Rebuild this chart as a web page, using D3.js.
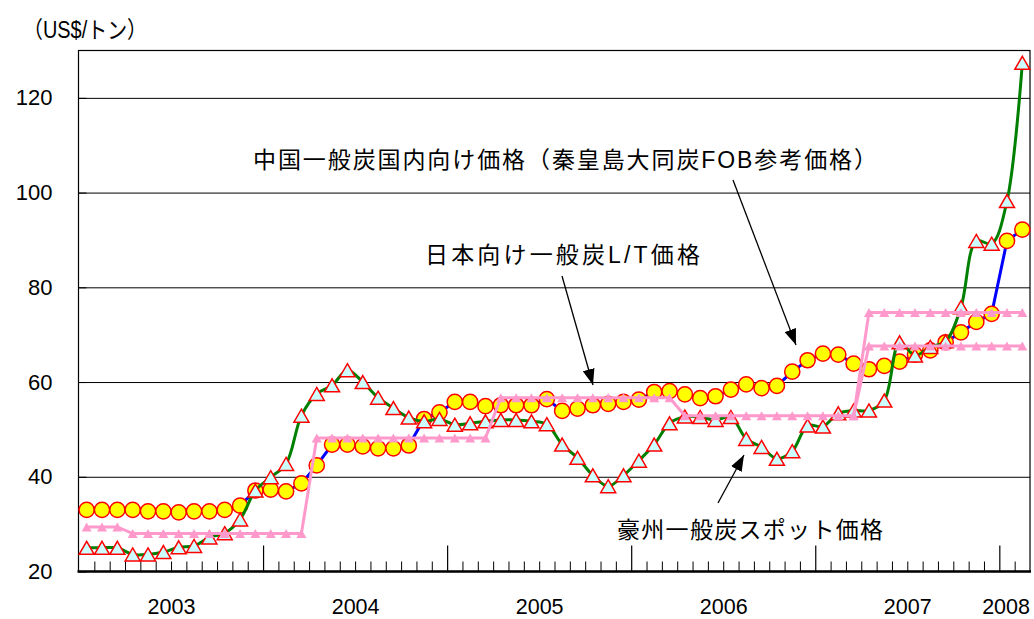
<!DOCTYPE html>
<html>
<head>
<meta charset="utf-8">
<script src="https://cdn.jsdelivr.net/npm/d3@7"></script>
<style>
  body { margin: 0; background: #fff; }
  svg { display: block; }
</style>
</head>
<body>
<svg id="chart" width="1034" height="619"></svg>
<script>
// Monthly coal prices, January 2003 – February 2008 (US$/ton)
const firstYear = 2003;
const monthCount = 62;
const yearLabels = ["2003", "2004", "2005", "2006", "2007", "2008"];
const yTicks = [20, 40, 60, 80, 100, 120];

// Australian thermal coal spot price
const australiaSpot = [
  25.0, 25.0, 25.0, 23.6, 23.6, 24.1, 25.1, 25.4, 27.2, 28.1, 31.0, 37.1,
  39.9, 42.7, 52.9, 57.5, 59.3, 62.5, 60.0, 56.7, 54.5, 52.5, 51.7, 52.2,
  51.0, 51.3, 51.7, 52.0, 52.0, 51.7, 51.1, 46.8, 44.0, 40.3, 38.0, 40.3,
  43.4, 46.8, 51.3, 52.7, 52.6, 52.0, 52.6, 48.0, 46.3, 43.8, 45.4, 50.8,
  50.6, 53.4, 54.0, 54.0, 56.1, 68.4, 65.6, 67.4, 68.6, 75.8, 89.8, 89.2,
  98.2, 127.4
];

// China domestic thermal coal price (Qinhuangdao Datong coal FOB reference)
const chinaFOB = [
  33.0, 33.0, 33.0, 33.0, 32.7, 32.7, 32.5, 32.7, 32.7, 33.0, 33.9, 37.1,
  37.3, 36.9, 38.6, 42.4, 46.8, 46.8, 46.4, 46.0, 46.0, 46.6, 52.2, 53.6,
  55.8, 55.8, 54.9, 55.1, 55.1, 55.1, 56.4, 53.9, 54.4, 55.1, 55.4, 55.8,
  56.3, 57.9, 58.1, 57.4, 56.6, 57.0, 58.4, 59.5, 58.7, 59.2, 62.2, 64.6,
  66.0, 65.8, 63.9, 62.7, 63.4, 64.3, 65.8, 66.7, 68.4, 70.5, 72.7, 74.4,
  89.8, 92.2
];

// Japan-bound thermal coal long-term contract price (fiscal-year benchmark)
const japanLT = [
  29.4, 29.4, 29.4, 28.0, 28.0, 28.0, 28.0, 28.0, 28.0, 28.0, 28.0, 28.0,
  28.0, 28.0, 28.0, 48.2, 48.2, 48.2, 48.2, 48.2, 48.2, 48.2, 48.2, 48.2,
  48.2, 48.2, 48.2, 56.7, 56.7, 56.7, 56.7, 56.7, 56.7, 56.7, 56.7, 56.7,
  56.7, 56.7, 56.7, 52.9, 52.9, 52.9, 52.9, 52.9, 52.9, 52.9, 52.9, 52.9,
  52.9, 52.9, 52.9, 74.7, 74.7, 74.7, 74.7, 74.7, 74.7, 74.7, 74.7, 74.7,
  74.7, 74.7
];

// Second FY2007 Japan contract price level
const japanLT2 = [
  null, null, null, null, null, null, null, null, null, null, null, null,
  null, null, null, null, null, null, null, null, null, null, null, null,
  null, null, null, null, null, null, null, null, null, null, null, null,
  null, null, null, null, null, null, null, null, null, null, null, null,
  null, null, 52.9, 67.6, 67.6, 67.6, 67.6, 67.6, 67.6, 67.6, 67.6, 67.6,
  67.6, 67.6
];

const unitLabel = "（US$/トン）";
const chinaLabel = "中国一般炭国内向け価格（秦皇島大同炭FOB参考価格）";
const japanLabel = "日本向け一般炭L/T価格";
const australiaLabel = "豪州一般炭スポット価格";

// ---- layout ----
const plot = { left: 78.5, right: 1030, top: 50.5, bottom: 571.5 };
const latin = "'Liberation Sans', Arial, sans-serif";
// Latin letters in Liberation Sans, Japanese falling back to Noto Sans CJK
const mixed = "'Liberation Sans', 'Noto Sans CJK JP', 'Noto Sans CJK SC', sans-serif";

const svg = d3.select("#chart");

const x = d3.scaleLinear().domain([0, monthCount]).range([79, plot.right]);
const y = d3.scaleLinear().domain([20, 130]).range([plot.bottom, plot.top]);
const mid = i => x(i + 0.5);

// horizontal gridlines
const grid = svg.append("g")
  .attr("transform", `translate(${plot.left},0)`)
  .call(d3.axisLeft(y).tickValues(yTicks.filter(v => v > 20))
    .tickSize(-(plot.right - plot.left)).tickFormat(""));
grid.select(".domain").remove();
grid.selectAll(".tick line").attr("stroke", "#000").attr("stroke-width", 1);

// y axis with inward ticks
const yAxis = svg.append("g")
  .attr("transform", `translate(${plot.left},0)`)
  .call(d3.axisLeft(y).tickValues(yTicks).tickSizeInner(-8).tickSizeOuter(0).tickPadding(26));
yAxis.select(".domain").remove();
yAxis.selectAll(".tick line").attr("stroke", "#000");
yAxis.selectAll("text").attr("font-family", latin).attr("font-size", 22).attr("fill", "#000");

// month ticks along the bottom, taller at year boundaries
const monthTicks = d3.range(1, monthCount).filter(i => i % 12 !== 0);
const yearTicks = d3.range(12, monthCount, 12);
const xMinor = svg.append("g")
  .attr("transform", `translate(0,${plot.bottom})`)
  .call(d3.axisBottom(x).tickValues(monthTicks).tickSize(-10).tickFormat(""));
xMinor.select(".domain").remove();
xMinor.selectAll(".tick line").attr("stroke", "#000").attr("stroke-width", 1);
const xMajor = svg.append("g")
  .attr("transform", `translate(0,${plot.bottom})`)
  .call(d3.axisBottom(x).tickValues(yearTicks).tickSize(-26).tickFormat(""));
xMajor.select(".domain").remove();
xMajor.selectAll(".tick line").attr("stroke", "#000").attr("stroke-width", 1.2);

// year labels centred on the months of each year
const yearCenters = yearLabels.map((lab, k) => {
  const a = k * 12, b = Math.min(a + 12, monthCount);
  return (a + b) / 2;
});
const xLabels = svg.append("g")
  .attr("transform", `translate(0,${plot.bottom})`)
  .call(d3.axisBottom(x).tickValues(yearCenters).tickSize(0).tickPadding(27)
    .tickFormat((d, i) => yearLabels[i]));
xLabels.select(".domain").remove();
xLabels.selectAll("text").attr("font-family", latin).attr("font-size", 21.5).attr("fill", "#000");
xLabels.selectAll("text").each(function () {
  const t = d3.select(this);
  const tx = +d3.select(this.parentNode).attr("transform").match(/translate\(([-\d.]+)/)[1];
  const w = this.getComputedTextLength();
  if (tx + w / 2 > plot.right) t.attr("dx", plot.right - (tx + w / 2));
});

// plot frame
svg.append("rect")
  .attr("x", plot.left).attr("y", plot.top)
  .attr("width", plot.right - plot.left).attr("height", plot.bottom - plot.top)
  .attr("fill", "none").attr("stroke", "#000").attr("stroke-width", 1.2);
svg.append("line")
  .attr("x1", plot.left - 1).attr("x2", plot.right + 1)
  .attr("y1", plot.bottom).attr("y2", plot.bottom)
  .attr("stroke", "#000").attr("stroke-width", 2.5);

// ---- series ----
const linear = d3.line().defined(d => d != null).x((d, i) => mid(i)).y(d => y(d));
const smooth = d3.line().defined(d => d != null).x((d, i) => mid(i)).y(d => y(d))
  .curve(d3.curveCatmullRom.alpha(0.5));

svg.append("path").datum(chinaFOB)
  .attr("d", linear).attr("fill", "none").attr("stroke", "#0000FF").attr("stroke-width", 3);

svg.append("g").selectAll("circle").data(chinaFOB).join("circle")
  .attr("cx", (d, i) => mid(i)).attr("cy", d => y(d)).attr("r", 7.6)
  .attr("fill", "#FFFF00").attr("stroke", "#FF0000").attr("stroke-width", 1.5);

svg.append("path").datum(australiaSpot)
  .attr("d", smooth).attr("fill", "none").attr("stroke", "#008000").attr("stroke-width", 3);

const tri = (w, h) => `M0,${-h / 2}L${w / 2},${h / 2}L${-w / 2},${h / 2}Z`;
svg.append("g").selectAll("path").data(australiaSpot).join("path")
  .attr("d", tri(15, 13))
  .attr("transform", (d, i) => `translate(${mid(i)},${y(d)})`)
  .attr("fill", "#CCFFFF").attr("stroke", "#FF0000").attr("stroke-width", 1.5);

[japanLT, japanLT2].forEach(series => {
  svg.append("path").datum(series)
    .attr("d", linear).attr("fill", "none").attr("stroke", "#FF99CC").attr("stroke-width", 3);
  svg.append("g").selectAll("path")
    .data(series.map((v, i) => ({ v, i })).filter(d => d.v != null))
    .join("path")
    .attr("d", tri(10, 9))
    .attr("transform", d => `translate(${mid(d.i)},${y(d.v)})`)
    .attr("fill", "#FF99CC");
});

// ---- titles and annotations ----
svg.append("text")
  .attr("x", 23).attr("y", 38)
  .attr("font-family", mixed).attr("font-size", 23)
  .attr("textLength", 124).attr("lengthAdjust", "spacingAndGlyphs")
  .text(unitLabel);

svg.append("defs").append("marker")
  .attr("id", "head").attr("markerUnits", "userSpaceOnUse")
  .attr("viewBox", "0 0 16 12").attr("refX", 16).attr("refY", 6)
  .attr("markerWidth", 16).attr("markerHeight", 12).attr("orient", "auto")
  .append("path").attr("d", "M0,0L16,6L0,12Z").attr("fill", "#000");

const notes = [
  { text: chinaLabel, x: 253, y: 168, len: 624, from: [733, 180], to: [796, 345] },
  { text: japanLabel, x: 425, y: 263, len: 275, from: [562, 276], to: [593, 385] },
  { text: australiaLabel, x: 617, y: 538, len: 266, from: [718, 503], to: [744, 455] }
];
notes.forEach(n => {
  svg.append("text")
    .attr("x", n.x).attr("y", n.y)
    .attr("font-family", mixed).attr("font-size", 23).attr("fill", "#000")
    .attr("textLength", n.len).attr("lengthAdjust", "spacing")
    .text(n.text);
  svg.append("line")
    .attr("x1", n.from[0]).attr("y1", n.from[1])
    .attr("x2", n.to[0]).attr("y2", n.to[1])
    .attr("stroke", "#000").attr("stroke-width", 1.3)
    .attr("marker-end", "url(#head)");
});
</script>
</body>
</html>
